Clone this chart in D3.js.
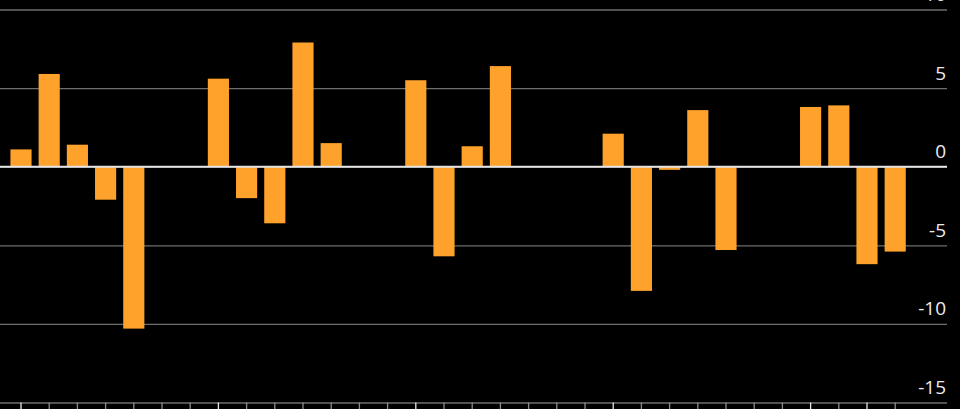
<!DOCTYPE html>
<html>
<head>
<meta charset="utf-8">
<script src="https://cdn.jsdelivr.net/npm/d3@7"></script>
<style>
  html, body { margin: 0; padding: 0; background: #000; }
  svg { display: block; }
</style>
</head>
<body>
<div id="chart"></div>
<script>
// trading days, weekends/holidays left empty
const days = ["d01","d02","d03","d04","d05","d06","d07","d08","d09","d10",
              "d11","d12","d13","d14","d15","d16","d17","d18","d19","d20",
              "d21","d22","d23","d24","d25","d26","d27","d28","d29","d30",
              "d31","d32"];
const values = [1.1, 5.9, 1.4, -2.1, -10.3, null, null,
                5.6, -2.0, -3.6, 7.9, 1.5, null, null,
                5.5, -5.7, 1.3, 6.4, null, null, null,
                2.1, -7.9, -0.2, 3.6, -5.3, null, null,
                3.8, 3.9, -6.2, -5.4];
const majorDays = ["d01", "d08", "d15", "d22", "d29", "d31"];
const yTicks = [-15, -10, -5, 0, 5, 10];

var width = 960;
var height = 409;
var right_edge = 947;

var data = days.map(function(d, i) { return {day: d, v: values[i]}; });

var svg = d3.select("#chart")
    .append("svg")
    .attr("width", width)
    .attr("height", height)
    .style("background", "#000");

var xScale = d3.scaleBand()
    .domain(days)
    .range([6.9, 909.3])
    .paddingInner(0.25)
    .paddingOuter(0.125);

var yScale = d3.scaleLinear()
    .domain([-15, 10])
    .range([402.5, 9.5]);

// gridlines + labels (right side)
var y_axis = d3.axisLeft(yScale)
    .tickValues(yTicks)
    .tickSize(right_edge)
    .tickFormat(d3.format("d"));

var gy = svg.append("g")
    .attr("transform", "translate(" + right_edge + ",0)")
    .call(y_axis);
gy.select(".domain").remove();
gy.selectAll(".tick line")
    .attr("stroke", "#6e6e6e")
    .attr("stroke-width", 1.3);
gy.selectAll(".tick text")
    .attr("x", -1)
    .attr("dy", "-9px")
    .attr("text-anchor", "end")
    .attr("fill", "#ececec")
    .style("font-family", "'Open Sans', sans-serif")
    .style("font-size", "19px")
    .text(function(d) { return d < 0 ? "-" + Math.abs(d) : d; });

// x ticks (labels fall below the visible area)
var x_axis = d3.axisBottom(xScale)
    .tickSize(7)
    .tickFormat("");

var gx = svg.append("g")
    .attr("transform", "translate(0," + yScale(-15) + ")")
    .call(x_axis);
gx.select(".domain").remove();
gx.selectAll(".tick line")
    .attr("stroke", function(d) { return majorDays.indexOf(d) >= 0 ? "#e6e6e6" : "#8c8c8c"; })
    .attr("stroke-width", 1.3);

// bars
svg.selectAll(".bar")
    .data(data.filter(function(d) { return d.v !== null; }))
    .enter().append("rect")
    .attr("class", "bar")
    .attr("x", function(d) { return xScale(d.day); })
    .attr("y", function(d) { return yScale(Math.max(0, d.v)); })
    .attr("width", xScale.bandwidth())
    .attr("height", function(d) { return Math.abs(yScale(d.v) - yScale(0)); })
    .attr("fill", "#ffa22c");

// zero line on top
svg.append("line")
    .attr("x1", 0)
    .attr("x2", right_edge)
    .attr("y1", yScale(0))
    .attr("y2", yScale(0))
    .attr("stroke", "#e4e4e4")
    .attr("stroke-width", 2);
</script>
</body>
</html>
